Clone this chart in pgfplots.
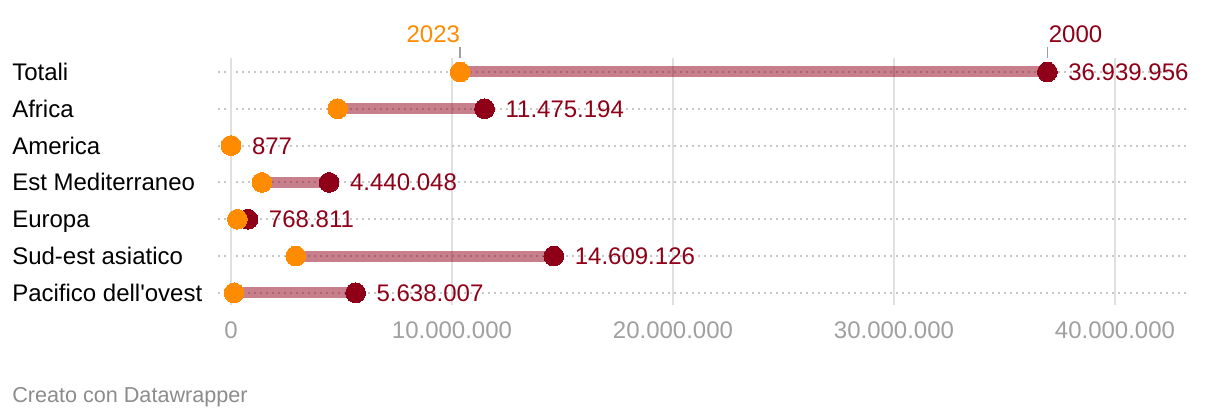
\documentclass[border=0pt]{standalone}
\usepackage{pgfplots}
\pgfplotsset{compat=1.18}
\usepackage{fontspec}
\setmainfont{Liberation Sans}

\definecolor{dr}{HTML}{8F0018}
\definecolor{og}{HTML}{FF8C00}
\definecolor{tk}{HTML}{A0A0A0}

\begin{document}
\begin{tikzpicture}
\fill[white] (0,0) rectangle (915pt,315pt);

\begin{axis}[
  at={(163.5pt,86.25pt)}, anchor=south west,
  scale only axis,
  width=726.75pt, height=185.25pt,
  xmin=-0.588, xmax=43.26,
  ymin=-0.38, ymax=6.33,
  y dir=reverse,
  axis line style={draw=none},
  major tick length=0pt,
  xtick={0,10,20,30,40},
  xticklabels={0,10.000.000,20.000.000,30.000.000,40.000.000},
  xticklabel style={anchor=base, yshift=-25.5pt, text=tk, font=\fontsize{18pt}{21pt}\selectfont},
  ytick={0,...,6},
  yticklabels={Totali,Africa,America,Est Mediterraneo,Europa,Sud-est asiatico,Pacifico dell\textquotesingle ovest},
  yticklabel style={anchor=base west, inner sep=0pt, xshift=-154.5pt, yshift=-6.4pt, font=\fontsize{18pt}{21pt}\selectfont},
  xmajorgrids, ymajorgrids,
  x grid style={draw=black!12, line width=0.9pt},
  y grid style={draw=black!22, dash pattern=on 1.5pt off 3pt, line width=1.4pt},
  extra x ticks={0},
  extra x tick labels={},
  extra x tick style={grid style={draw=black!28, line width=1.6pt}},
  clip=false,
  /pgf/number format/assume math mode=true,
]

% bars between 2023 and 2000
\addplot[draw=dr, draw opacity=0.5, line width=8.25pt, unbounded coords=jump] coordinates {
  (10.37,0) (36.94,0) (nan,nan)
  (4.83,1) (11.475,1) (nan,nan)
  (0.0,2) (0.000877,2) (nan,nan)
  (1.40,3) (4.44,3) (nan,nan)
  (0.29,4) (0.769,4) (nan,nan)
  (2.93,5) (14.609,5) (nan,nan)
  (0.14,6) (5.638,6)
};

% 2000
\addplot[color=dr, only marks, mark=*, mark size=7.4pt, mark options={draw=dr, fill=dr, line width=0pt},
  point meta=explicit symbolic,
  nodes near coords,
  nodes near coords style={anchor=base west, inner sep=0pt, xshift=15.75pt, yshift=-6.4pt, text=dr, font=\fontsize{18pt}{21pt}\selectfont}]
  table[meta=lab] {
x y lab
36.939956 0 36.939.956
11.475194 1 11.475.194
0.000877 2 877
4.440048 3 4.440.048
0.768811 4 768.811
14.609126 5 14.609.126
5.638007 6 5.638.007
};

% 2023
\addplot[color=og, only marks, mark=*, mark size=7.4pt, mark options={draw=og, fill=og, line width=0pt}]
  table {
x y
10.37 0
4.83 1
0.0 2
1.40 3
0.29 4
2.93 5
0.14 6
};

\draw[tk, line width=1.2pt] (axis cs:10.37,-0.38) -- ++(0pt,8.5pt)
  node[anchor=base east, inner sep=0pt, yshift=3pt, xshift=0.5pt, text=og, font=\fontsize{18pt}{21pt}\selectfont] {2023};
\draw[tk, line width=1.2pt] (axis cs:36.94,-0.38) -- ++(0pt,8.5pt)
  node[anchor=base west, inner sep=0pt, yshift=3pt, xshift=0.5pt, text=dr, font=\fontsize{18pt}{21pt}\selectfont] {2000};
\end{axis}

\node[anchor=base west, inner sep=0pt, text=black!45, font=\fontsize{16.2pt}{19pt}\selectfont] at (9pt,13.2pt) {Creato con Datawrapper};
\end{tikzpicture}
\end{document}
